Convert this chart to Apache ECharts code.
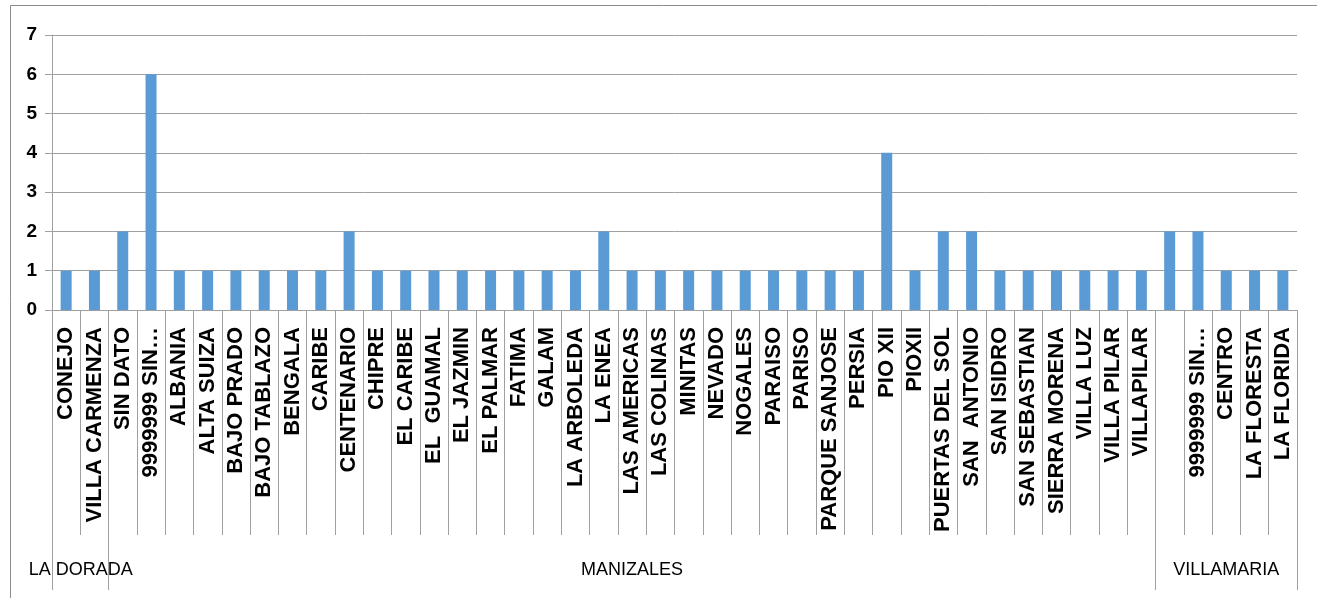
<!DOCTYPE html>
<html>
<head>
<meta charset="utf-8">
<script src="https://cdn.jsdelivr.net/npm/echarts@6/dist/echarts.min.js"></script>
<style>
  html, body { margin: 0; padding: 0; background: #fff; }
  #chart { width: 1317px; height: 598px; }
</style>
</head>
<body>
<div id="chart"></div>
<script>
// ---- data ----
const categories = [
  'CONEJO', 'VILLA CARMENZA',
  'SIN DATO', '9999999 SIN…', 'ALBANIA', 'ALTA SUIZA', 'BAJO PRADO', 'BAJO TABLAZO',
  'BENGALA', 'CARIBE', 'CENTENARIO', 'CHIPRE', 'EL CARIBE', 'EL  GUAMAL', 'EL JAZMIN',
  'EL PALMAR', 'FATIMA', 'GALAM', 'LA ARBOLEDA', 'LA ENEA', 'LAS AMERICAS', 'LAS COLINAS',
  'MINITAS', 'NEVADO', 'NOGALES', 'PARAISO', 'PARISO', 'PARQUE SANJOSE', 'PERSIA',
  'PIO XII', 'PIOXII', 'PUERTAS DEL SOL', 'SAN  ANTONIO', 'SAN ISIDRO', 'SAN SEBASTIAN',
  'SIERRA MORENA', 'VILLA LUZ', 'VILLA PILAR', 'VILLAPILAR',
  '', '9999999 SIN…', 'CENTRO', 'LA FLORESTA', 'LA FLORIDA'
];
const values = [
  1, 1,
  2, 6, 1, 1, 1, 1,
  1, 1, 2, 1, 1, 1, 1,
  1, 1, 1, 1, 2, 1, 1,
  1, 1, 1, 1, 1, 1, 1,
  4, 1, 2, 2, 1, 1,
  1, 1, 1, 1,
  2, 2, 1, 1, 1
];
const groupNames = ['LA DORADA', 'MANIZALES', 'VILLAMARIA'];
const groupSizes = [2, 37, 5];
const yTicks = [0, 1, 2, 3, 4, 5, 6, 7];

// ---- derived group axis ----
const groupStarts = [];
const groupCenters = [];
const groupAxisData = [];
let acc = 0;
groupSizes.forEach((n, g) => {
  groupStarts.push(acc);
  groupCenters.push(acc + Math.floor(n / 2));
  for (let i = 0; i < n; i++) groupAxisData.push(groupNames[g]);
  acc += n;
});
// LA DORADA has an even count of 2 -> its label is centred on the boundary
const groupAxisItems = groupAxisData.map((v, i) => {
  if (i === groupStarts[0] && groupSizes[0] % 2 === 0) {
    return { value: v, textStyle: { padding: [0, 0, 0, 29] } };
  }
  return v;
});
const centerIdx = groupCenters.map((c, g) => (g === 0 && groupSizes[0] % 2 === 0) ? groupStarts[0] : c);

const gray = '#A0A0A0';
const chart = echarts.init(document.getElementById('chart'));
chart.setOption({
  animation: false,
  backgroundColor: '#fff',
  grid: { left: 52, right: 20, top: 35, bottom: 288, containLabel: false },
  graphic: [
    { type: 'line', shape: { x1: 10.5, y1: 5.5, x2: 1317, y2: 5.5 }, style: { stroke: '#8c8c8c', lineWidth: 1 } },
    { type: 'line', shape: { x1: 10.5, y1: 5.5, x2: 10.5, y2: 598 }, style: { stroke: '#8c8c8c', lineWidth: 1 } }
  ],
  xAxis: [
    {
      type: 'category',
      data: categories,
      position: 'bottom',
      axisLine: { show: true, lineStyle: { color: gray, width: 1 } },
      axisTick: { show: true, length: 225, interval: 0, lineStyle: { color: gray, width: 1 } },
      axisLabel: {
        interval: 0, rotate: 90, margin: 17,
        fontFamily: 'Liberation Sans, Arial, sans-serif', fontWeight: 'bold', fontSize: 22, color: '#000'
      },
      splitLine: { show: false }
    },
    {
      type: 'category',
      data: groupAxisItems,
      position: 'bottom',
      offset: 0,
      axisLine: { show: false },
      axisTick: {
        show: true, length: 280,
        interval: (idx) => groupStarts.indexOf(idx) >= 0,
        lineStyle: { color: gray, width: 1 }
      },
      axisLabel: {
        interval: (idx) => centerIdx.indexOf(idx) >= 0,
        margin: 251,
        fontFamily: 'Liberation Sans, Arial, sans-serif',
        fontSize: 18, color: '#000'
      },
      splitLine: { show: false }
    }
  ],
  yAxis: {
    type: 'value',
    min: yTicks[0], max: yTicks[yTicks.length - 1], interval: 1,
    axisLine: { show: true, lineStyle: { color: gray, width: 1 } },
    axisTick: { show: true, length: 7, lineStyle: { color: gray, width: 1 } },
    axisLabel: {
      margin: 15,
      fontFamily: 'Liberation Sans, Arial, sans-serif',
      fontWeight: 'bold', fontSize: 19, color: '#000'
    },
    splitLine: { show: true, lineStyle: { color: gray, width: 1 } }
  },
  series: [{
    type: 'bar',
    data: values,
    xAxisIndex: 0,
    barWidth: 11,
    itemStyle: { color: '#5B9BD5' }
  }]
});
</script>
</body>
</html>
